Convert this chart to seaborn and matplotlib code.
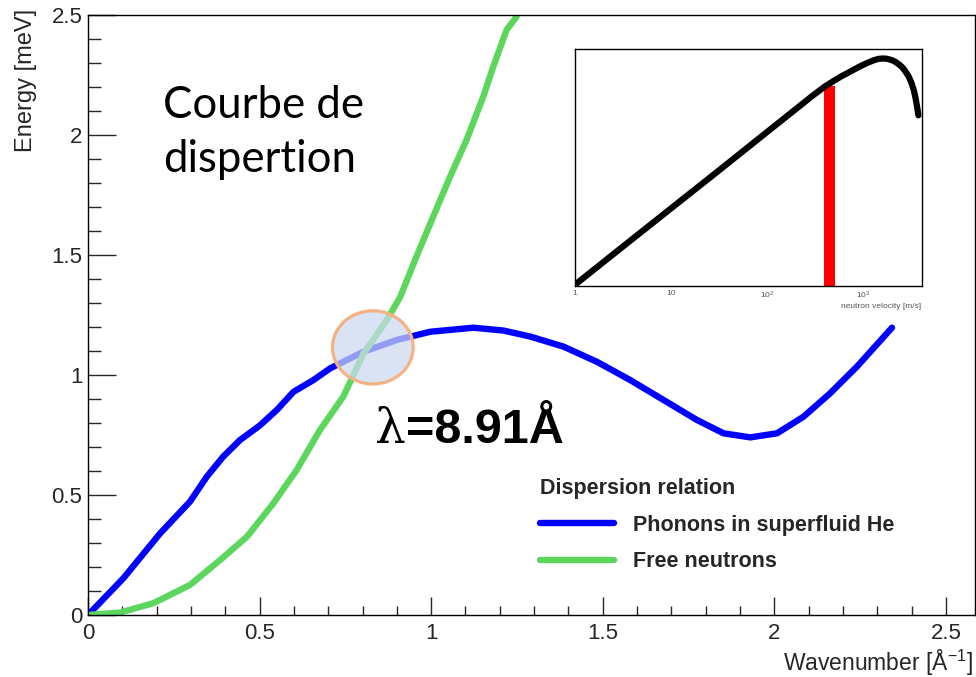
import matplotlib
matplotlib.use("Agg")
import matplotlib.pyplot as plt
from matplotlib.patches import Ellipse
from matplotlib.ticker import MultipleLocator, FuncFormatter, LogLocator, NullFormatter, FixedLocator, FixedFormatter
import seaborn as sns

# Dispersion curves: wavenumber [1/Å] vs energy [meV]
phonon_k = [0.0, 0.103, 0.21, 0.297, 0.346, 0.394, 0.443, 0.501, 0.55, 0.599,
            0.657, 0.706, 0.803, 0.9, 0.997, 1.123, 1.211, 1.289, 1.386, 1.483,
            1.58, 1.677, 1.774, 1.852, 1.93, 2.008, 2.085, 2.163, 2.241, 2.343]
phonon_E = [0.0, 0.153, 0.34, 0.472, 0.576, 0.66, 0.729, 0.79, 0.854, 0.93,
            0.979, 1.028, 1.097, 1.146, 1.18, 1.197, 1.185, 1.16, 1.118, 1.055,
            0.979, 0.896, 0.813, 0.757, 0.74, 0.757, 0.826, 0.924, 1.035, 1.197]

neutron_k = [0.0, 0.093, 0.19, 0.297, 0.385, 0.463, 0.54, 0.608, 0.676, 0.744,
             0.803, 0.871, 0.91, 0.957, 1.006, 1.055, 1.103, 1.152, 1.181, 1.22, 1.249]
neutron_E = [0.0, 0.01, 0.049, 0.125, 0.229, 0.326, 0.465, 0.604, 0.771, 0.91,
             1.09, 1.229, 1.326, 1.493, 1.66, 1.826, 1.979, 2.16, 2.285, 2.438, 2.493]

# Neutron velocity spectrum (inset), velocity [m/s] vs counts
velocity = [1, 3, 10, 30, 100, 200, 300, 400, 500, 600, 700, 800, 900, 1000,
            1150, 1300, 1450, 1600, 1750, 1900, 2050, 2200, 2400, 2600, 2800,
            3000, 3200, 3400, 3550, 3700, 3800]
flux = [1.0, 9.4, 108, 1.0e3, 1.17e4, 4.8e4, 1.10e5, 1.91e5, 2.75e5, 3.63e5,
        4.47e5, 5.37e5, 6.31e5, 7.24e5, 8.51e5, 9.66e5, 1.05e6, 1.08e6, 1.07e6,
        1.02e6, 9.55e5, 8.71e5, 7.41e5, 6.17e5, 4.79e5, 3.63e5, 2.51e5, 1.58e5,
        9.55e4, 5.25e4, 3.31e4]
band_v = [395, 511]
band_top = 1.96e5

velocity_ticks = [1, 10, 100, 1000]
velocity_labels = ["1", "10", "$10^{2}$", "$10^{3}$"]

sns.set_style("white")
plt.rcParams["font.family"] = ["Liberation Sans", "DejaVu Sans"]
plt.rcParams["mathtext.fontset"] = "custom"
plt.rcParams["mathtext.rm"] = "Liberation Sans"
plt.rcParams["mathtext.it"] = "Liberation Sans:italic"
plt.rcParams["mathtext.bf"] = "Liberation Sans:bold"

fig = plt.figure(figsize=(9.76, 6.77), dpi=100)
ax = fig.add_axes([0.0902, 0.0916, 0.9088, 0.8863])

sns.lineplot(x=phonon_k, y=phonon_E, ax=ax, color="#0000ff", linewidth=4.6,
             label="Phonons in superfluid He")
sns.lineplot(x=neutron_k, y=neutron_E, ax=ax, color="#5cd65c", linewidth=4.6,
             label="Free neutrons")

ax.set_xlim(0, 2.585)
ax.set_ylim(0, 2.5)
ax.xaxis.set_major_locator(MultipleLocator(0.5))
ax.xaxis.set_minor_locator(MultipleLocator(0.1))
ax.yaxis.set_major_locator(MultipleLocator(0.5))
ax.yaxis.set_minor_locator(MultipleLocator(0.1))
fmt = FuncFormatter(lambda v, p: f"{v:g}")
ax.xaxis.set_major_formatter(fmt)
ax.yaxis.set_major_formatter(fmt)
ax.tick_params(axis="x", which="major", direction="in", length=13, width=1,
               labelsize=16, pad=6, bottom=True, top=False)
ax.tick_params(axis="x", which="minor", direction="in", length=6.5, width=1,
               bottom=True, top=False)
ax.tick_params(axis="y", which="major", direction="in", length=20, width=1,
               labelsize=16, pad=4, left=True, right=False)
ax.tick_params(axis="y", which="minor", direction="in", length=9.5, width=1,
               left=True, right=False)
for s in ax.spines.values():
    s.set_color("black")
    s.set_linewidth(1.0)

ax.set_xlabel("Wavenumber [Å$^{-1}$]", fontsize=16.5, loc="right")
ax.xaxis.set_label_coords(0.998, -0.054)
ax.set_ylabel("Energy [meV]", fontsize=17, loc="top")
ax.yaxis.set_label_coords(-0.058, 1.01)

# Crossing point of the two branches
ax.add_patch(Ellipse((0.830, 1.115), 0.235, 0.305,
                     facecolor=(0.80, 0.85, 0.94, 0.72), edgecolor="#f4b183",
                     linewidth=2.3, zorder=5))

lam = ax.text(0.836, 0.717, "λ", fontsize=35, family="DejaVu Serif",
              ha="left", va="baseline", color="black")
ax.annotate("=8.91Å", xy=(1, 0), xycoords=lam, fontsize=35, fontweight="bold",
            ha="left", va="bottom", color="black")

ax.text(0.2185, 2.071, "Courbe de", fontsize=31.5, family="Lato", color="black",
        ha="left", va="baseline")
ax.text(0.2185, 1.846, "dispertion", fontsize=31.5, family="Lato", color="black",
        ha="left", va="baseline")

leg = ax.legend(loc="upper left", bbox_to_anchor=(0.51, 0.229), frameon=False,
                title="Dispersion relation",
                title_fontproperties={"weight": "bold", "size": 15.5},
                prop={"weight": "bold", "size": 15.5}, handlelength=3.4,
                handletextpad=0.9, labelspacing=0.74, alignment="left",
                borderpad=0, borderaxespad=0)

# Inset: velocity spectrum with the selected band
axi = fig.add_axes([0.589, 0.5775, 0.3552, 0.3497])
axi.bar(band_v[0], band_top, width=band_v[1] - band_v[0], align="edge",
        color="#ff0000", linewidth=0, zorder=2)
sns.lineplot(x=velocity, y=flux, ax=axi, color="black", linewidth=4.5, zorder=3)
axi.set_xscale("log")
axi.set_yscale("log")
axi.set_xlim(1, 4100)
axi.set_ylim(0.93, 1.9e6)
axi.xaxis.set_major_locator(FixedLocator(velocity_ticks))
axi.xaxis.set_major_formatter(FixedFormatter(velocity_labels))
axi.xaxis.set_minor_locator(LogLocator(base=10, subs=range(2, 10), numticks=20))
axi.xaxis.set_minor_formatter(NullFormatter())
axi.yaxis.set_major_locator(LogLocator(base=10, numticks=20))
axi.yaxis.set_minor_locator(LogLocator(base=10, subs=range(2, 10), numticks=20))
axi.yaxis.set_major_formatter(NullFormatter())
axi.yaxis.set_minor_formatter(NullFormatter())
axi.tick_params(axis="both", which="major", direction="in", length=6, width=1,
                labelsize=6, labelcolor="#555555", pad=3,
                top=False, right=False)
axi.tick_params(axis="both", which="minor", direction="in", length=3, width=0.8,
                top=False, right=False)
for s in axi.spines.values():
    s.set_color("black")
    s.set_linewidth(1.0)
axi.set_xlabel("neutron velocity [m/s]", fontsize=6, color="#555555",
               loc="right", labelpad=1)
axi.set_ylabel("")

fig.savefig("out.png", dpi=100)
